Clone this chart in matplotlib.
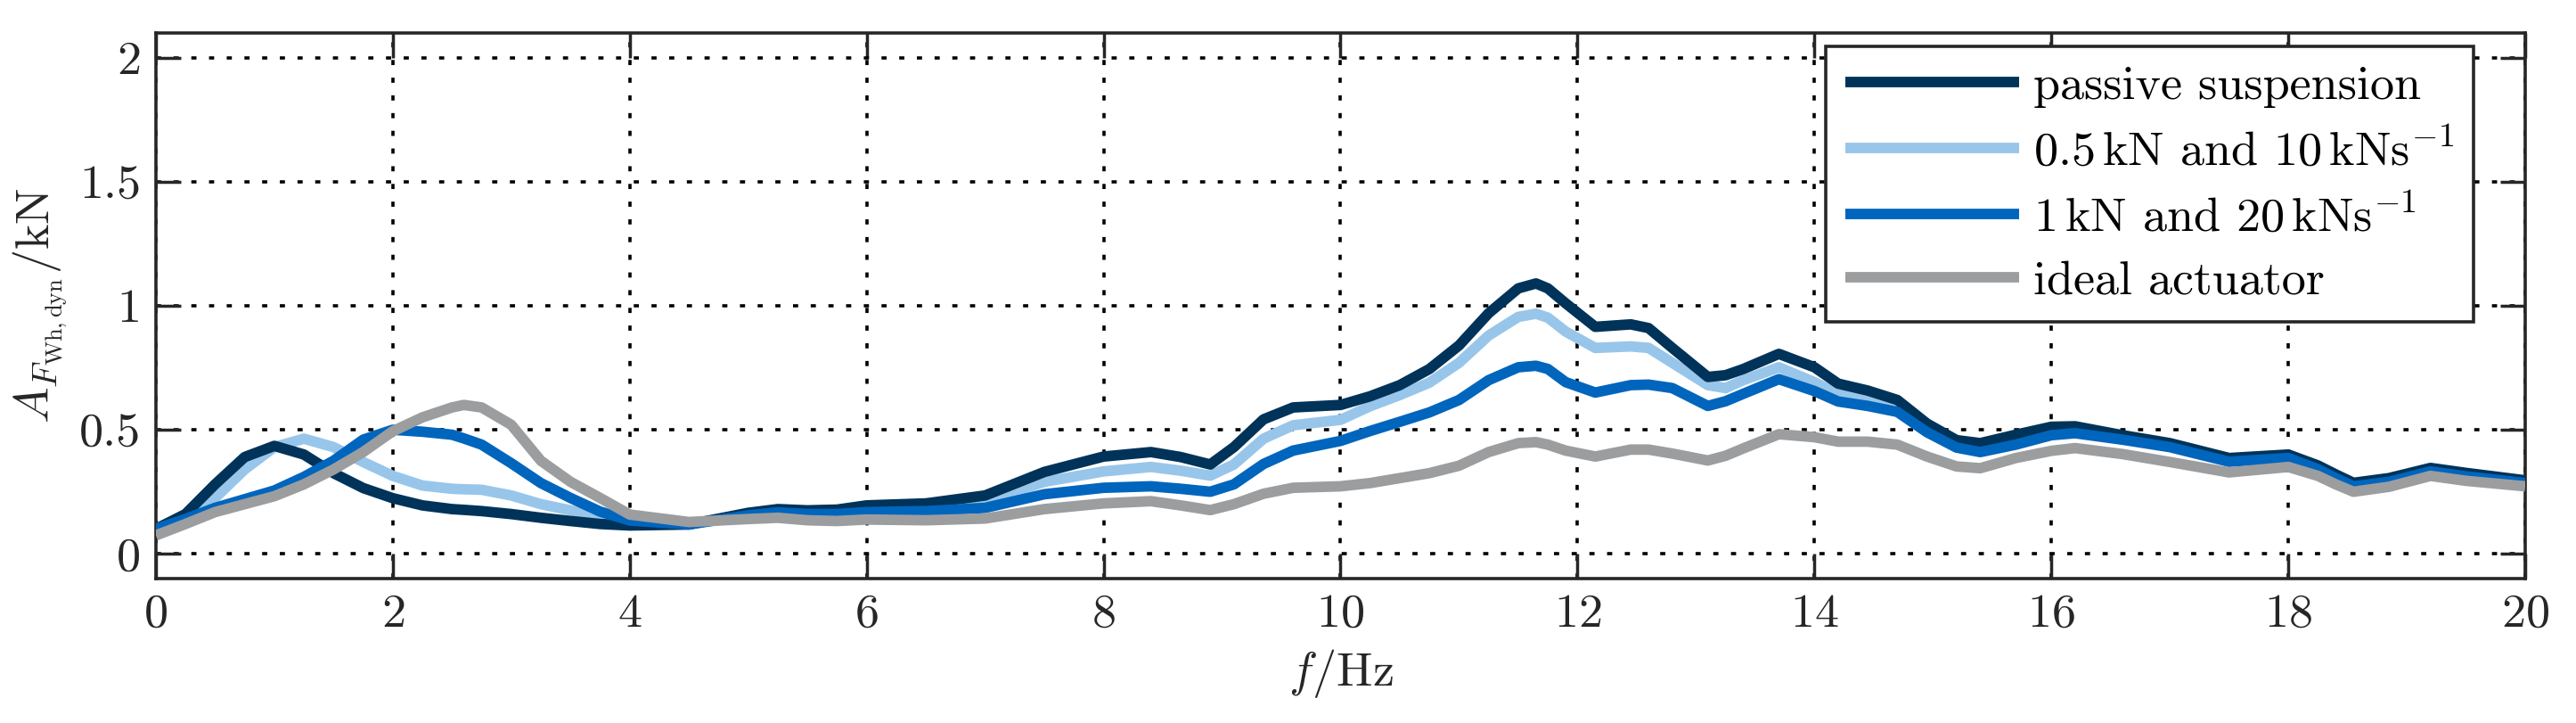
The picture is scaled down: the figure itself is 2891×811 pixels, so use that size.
import matplotlib
matplotlib.use("Agg")
import matplotlib.pyplot as plt

plt.rcParams['font.family'] = 'cmr10'
plt.rcParams['mathtext.fontset'] = 'cm'
plt.rcParams['axes.formatter.use_mathtext'] = True

# frequency grid [Hz] and amplitudes [kN]
freq = [0, 0.25, 0.5, 0.75, 1.0, 1.25, 1.5, 1.75, 2.0, 2.25, 2.5, 2.6, 2.75, 3.0, 3.25, 3.5, 3.75,
        4.0, 4.5, 5.0, 5.25, 5.5, 5.75, 6.0, 6.5, 7.0, 7.5, 8.0, 8.4, 8.65, 8.9, 9.1, 9.35, 9.6,
        10.0, 10.25, 10.5, 10.75, 11.0, 11.25, 11.5, 11.65, 11.75, 11.9, 12.15, 12.45, 12.6, 12.8,
        13.1, 13.25, 13.4, 13.7, 14.0, 14.2, 14.45, 14.7, 14.95, 15.2, 15.4, 15.7, 16.0, 16.2, 16.6,
        17.0, 17.5, 18.0, 18.25, 18.4, 18.55, 18.85, 19.2, 19.5, 20.0]

passive = [0.10, 0.16, 0.28, 0.39, 0.435, 0.40, 0.325, 0.265, 0.224, 0.195, 0.18, 0.177, 0.172, 0.16, 0.145, 0.132, 0.12,
           0.114, 0.118, 0.165, 0.18, 0.175, 0.178, 0.195, 0.203, 0.235, 0.33, 0.392, 0.41, 0.39, 0.36, 0.43, 0.542, 0.59,
           0.60, 0.635, 0.68, 0.745, 0.84, 0.97, 1.07, 1.09, 1.07, 1.01, 0.915, 0.925, 0.91, 0.83,
           0.713, 0.72, 0.745, 0.806, 0.752, 0.686, 0.658, 0.62, 0.525, 0.458, 0.446, 0.48, 0.512, 0.514, 0.478,
           0.446, 0.386, 0.40, 0.356, 0.32, 0.286, 0.305, 0.346, 0.326, 0.296]

act_05_10 = [0.098, 0.14, 0.225, 0.34, 0.43, 0.464, 0.43, 0.37, 0.314, 0.275, 0.262, 0.26, 0.258, 0.235, 0.2, 0.175, 0.15,
             0.128, 0.12, 0.16, 0.172, 0.165, 0.165, 0.176, 0.196, 0.212, 0.29, 0.332, 0.35, 0.335, 0.315, 0.36, 0.464, 0.518,
             0.54, 0.595, 0.64, 0.69, 0.77, 0.88, 0.955, 0.968, 0.952, 0.896, 0.83, 0.836, 0.83, 0.77,
             0.68, 0.668, 0.70, 0.752, 0.692, 0.644, 0.626, 0.607, 0.512, 0.44, 0.434, 0.464, 0.495, 0.5, 0.466,
             0.436, 0.378, 0.392, 0.348, 0.312, 0.278, 0.297, 0.338, 0.318, 0.29]

act_1_20 = [0.10, 0.14, 0.185, 0.22, 0.255, 0.31, 0.375, 0.46, 0.5, 0.492, 0.48, 0.465, 0.44, 0.365, 0.285, 0.225, 0.17,
            0.134, 0.118, 0.155, 0.167, 0.16, 0.16, 0.168, 0.172, 0.185, 0.24, 0.266, 0.272, 0.262, 0.25, 0.28, 0.362, 0.416,
            0.455, 0.495, 0.532, 0.57, 0.62, 0.70, 0.752, 0.758, 0.745, 0.692, 0.65, 0.68, 0.682, 0.668,
            0.596, 0.615, 0.645, 0.704, 0.656, 0.614, 0.596, 0.572, 0.49, 0.428, 0.41, 0.44, 0.478, 0.486, 0.46,
            0.43, 0.371, 0.386, 0.341, 0.305, 0.272, 0.29, 0.332, 0.312, 0.285]

ideal = [0.074, 0.12, 0.168, 0.2, 0.232, 0.28, 0.34, 0.41, 0.494, 0.55, 0.59, 0.60, 0.59, 0.52, 0.375, 0.29, 0.225,
         0.158, 0.128, 0.14, 0.145, 0.135, 0.132, 0.138, 0.135, 0.142, 0.18, 0.203, 0.212, 0.195, 0.176, 0.2, 0.242, 0.266,
         0.272, 0.285, 0.305, 0.325, 0.355, 0.41, 0.446, 0.45, 0.44, 0.416, 0.392, 0.42, 0.42, 0.404,
         0.376, 0.395, 0.425, 0.482, 0.47, 0.452, 0.452, 0.44, 0.392, 0.352, 0.345, 0.386, 0.415, 0.426, 0.402,
         0.37, 0.328, 0.35, 0.314, 0.28, 0.25, 0.27, 0.314, 0.294, 0.272]

labels = ['passive suspension',
          r'0.5$\,$kN and 10$\,$kNs$^{-1}$',
          r'1$\,$kN and 20$\,$kNs$^{-1}$',
          'ideal actuator']
colors = ['#003359', '#98C6EA', '#0065BD', '#9C9D9F']
zorders = [3, 2, 4, 5]

dark = '#262626'
fs = 39
lw = 8.5

fig = plt.figure(figsize=(28.91, 8.11), dpi=100)
ax = fig.add_axes([0.0605, 0.1998, 0.9198, 0.7546])

for y, lab, c, z in zip([passive, act_05_10, act_1_20, ideal], labels, colors, zorders):
    ax.plot(freq, y, color=c, lw=lw, label=lab, zorder=z,
            solid_joinstyle='round', solid_capstyle='butt')

ax.set_xlim(0, 20)
ax.set_ylim(-0.1, 2.1)
ax.set_xticks(range(0, 21, 2))
ax.set_yticks([0, 0.5, 1, 1.5, 2])
ax.set_yticklabels(['0', '0.5', '1', '1.5', '2'])

ax.set_axisbelow(True)
ax.grid(True, color='black', lw=2.6, linestyle=(0, (1.6, 3.9)))

ax.tick_params(direction='in', length=20, width=2.5, top=True, right=True,
               labelsize=fs, pad=12, color=dark, labelcolor=dark)
for s in ax.spines.values():
    s.set_linewidth(2.6)
    s.set_color(dark)

ax.set_xlabel(r'$f/\mathrm{Hz}$', fontsize=fs, color=dark, labelpad=10)
ax.set_ylabel(r'$A_{F_{\mathrm{Wh,dyn}}}/\mathrm{kN}$', fontsize=fs, color=dark, labelpad=8)

leg = ax.legend(loc='upper right', bbox_to_anchor=(0.978, 0.976), borderaxespad=0,
                fontsize=fs, fancybox=False, framealpha=1, edgecolor=dark,
                handlelength=3.6, handletextpad=0.3, labelspacing=0.42, borderpad=0.4)
leg.get_frame().set_linewidth(2.6)
for line in leg.get_lines():
    line.set_linewidth(lw)

fig.savefig('out.png', dpi=100)
